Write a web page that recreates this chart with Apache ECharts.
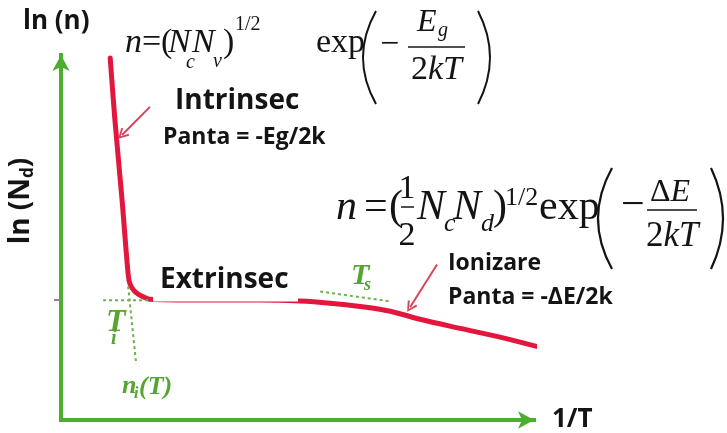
<!DOCTYPE html>
<html>
<head>
<meta charset="utf-8">
<script src="https://cdn.jsdelivr.net/npm/echarts@6/dist/echarts.min.js"></script>
<style>
  html, body { margin: 0; padding: 0; background: #fff; }
  #chart { width: 727px; height: 433px; }
</style>
</head>
<body>
<div id="chart"></div>
<script>
// ln(n) versus 1/T for a doped semiconductor, in arbitrary units (both axes span 0..100)
const invT = [10.4, 11.4, 12.9, 14.2, 14.6, 15.6, 17.1, 18.8, 29.4, 42.1, 50.5, 56.9, 63.2, 69.6, 75.9, 84.4, 92.8, 101.3];
const lnN  = [99.2, 82.2, 60.4, 39.9, 37.2, 35.2, 33.9, 33.1, 32.9, 32.9, 32.6, 32.0, 31.1, 29.8, 27.6, 25.1, 22.7, 19.9];

// level of ln(Nd) marked on the vertical axis
const lnNd = 32.9;

// construction lines (1/T, ln n)
const tiHorizontal = [[8.9, 32.8], [18.8, 32.8]];
const tiVertical   = [[14.2, 36.6], [15.9, 15.3]];
const tsTangent    = [[54.8, 35.2], [69.6, 32.5]];

// pointer arrows: [from, to]
const arrowIntrinsec = [[18.8, 85.8], [12.9, 78.1]];
const arrowIonizare  = [[79.5, 42.6], [73.8, 30.9]];

const GREEN = '#4cae2e';
const GREEN_TXT = '#55a530';
const RED = '#e3173d';
const ARROW = '#d8435c';
const INK = '#141414';
const SERIF = "'Liberation Serif', 'Times New Roman', serif";
const SANS = "'Open Sans', 'Liberation Sans', sans-serif";

const font = (style, weight, size, family) => `${style} ${weight} ${size}px ${family}`;

function txt(text, x, y, f, fill, extra) {
  const e = Object.assign({ z: 11, rotation: 0, align: 'left' }, extra || {});
  return {
    type: 'text', x: x, y: y, z: e.z, rotation: e.rotation, silent: true,
    style: {
      text: text, font: f, fill: fill || INK,
      align: e.align, textAlign: e.align,
      verticalAlign: 'middle', textVerticalAlign: 'middle',
      rich: e.rich
    }
  };
}

// tall thin bracket; xEnd = tips, xBulge = outermost point
function paren(xEnd, xBulge, y0, y1, w) {
  const ym = (y0 + y1) / 2;
  return {
    type: 'bezierCurve', z: 11, silent: true,
    shape: { x1: xEnd, y1: y0, x2: xEnd, y2: y1, cpx1: 2 * xBulge - xEnd, cpy1: ym },
    style: { stroke: INK, lineWidth: w, fill: null }
  };
}

function bar(x1, x2, y) {
  return { type: 'line', z: 11, silent: true, shape: { x1: x1, y1: y, x2: x2, y2: y }, style: { stroke: INK, lineWidth: 1.5 } };
}

const it = (s) => font('italic', 'normal', s, SERIF);
const up = (s) => font('normal', 'normal', s, SERIF);
const gb = (s) => font('italic', 'bold', s, SERIF);
const sb = (s) => font('normal', 'bold', s, SANS);

const elements = [
  // white label box that sits over the plateau
  { type: 'rect', z: 10, silent: true, shape: { x: 153, y: 262, width: 145, height: 39.5 }, style: { fill: '#fff' } },

  // axis captions
  txt('ln (n)', 23, 22, sb(26)),
  txt('{a|ln (N}{b|d}{a|)}', 21, 201, sb(28), INK, {
    rotation: Math.PI / 2, align: 'center',
    rich: { a: { font: sb(28), fill: INK, lineHeight: 32 }, b: { font: sb(17), fill: INK, lineHeight: 17, verticalAlign: 'bottom' } }
  }),

  // regime labels
  txt('Intrinsec', 175, 101, sb(28)),
  txt('Panta = -Eg/2k', 163, 137, sb(23)),
  txt('Extrinsec', 160, 280, sb(28)),
  txt('Ionizare', 448, 263, sb(23)),
  txt('Panta = -ΔE/2k', 448, 297, sb(23)),

  // green markers
  txt('T', 106, 323, gb(32), GREEN_TXT),
  txt('i', 111, 339, gb(20), GREEN_TXT),
  txt('n', 122, 386, gb(26), GREEN_TXT),
  txt('i', 134, 394, gb(16), GREEN_TXT),
  txt('(T)', 139, 387, gb(26), GREEN_TXT),
  txt('T', 351, 276, gb(30), GREEN_TXT),
  txt('s', 364, 285, gb(18), GREEN_TXT),

  // n = (Nc Nv)^(1/2) exp(-Eg / 2kT)
  txt('n', 125, 43.5, it(34)),
  txt('=', 142, 43.5, up(34)),
  txt('(', 161, 43.5, up(34)),
  txt('N', 168, 43.5, it(34)),
  txt('c', 186, 63, it(20)),
  txt('N', 192, 43.5, it(34)),
  txt('v', 213, 62, it(20)),
  txt(')', 223, 43.5, up(34)),
  txt('1/2', 235, 25, up(20)),
  txt('exp', 316, 43.5, up(34)),
  paren(376, 363, 11, 104, 2),
  txt('\u2212', 380, 45, up(34)),
  txt('E', 417, 23, it(32)),
  txt('g', 438, 31, it(20)),
  bar(408, 465, 47),
  txt('{u|2}{i|kT}', 411, 70, up(34), INK, { rich: { u: { font: up(34), fill: INK }, i: { font: it(34), fill: INK } } }),
  paren(478, 490, 11, 104, 2),

  // n = (1/2 Nc Nd)^(1/2) exp(-ΔE / 2kT)
  txt('n', 336, 207.5, it(42)),
  txt('=', 364, 207.5, up(42)),
  txt('(', 389, 207.5, up(42)),
  txt('1', 407, 189.5, up(34), INK, { align: 'center' }),
  bar(401, 414, 207),
  txt('2', 407, 236.5, up(34), INK, { align: 'center' }),
  txt('N', 417, 207.5, it(42)),
  txt('c', 444, 224, it(26)),
  txt('N', 453, 207.5, it(42)),
  txt('d', 481, 224, it(26)),
  txt(')', 493, 207.5, up(42)),
  txt('1/2', 505, 198, up(26)),
  txt('exp', 539, 207.5, up(42)),
  paren(612, 598, 168, 269, 2.2),
  txt('\u2212', 621, 206, up(42)),
  txt('{u|Δ}{i|E}', 650, 192.5, up(32), INK, { rich: { u: { font: up(32), fill: INK }, i: { font: it(32), fill: INK } } }),
  bar(647, 697, 210),
  txt('{u|2}{i|kT}', 646, 236.5, up(35), INK, { rich: { u: { font: up(35), fill: INK }, i: { font: it(35), fill: INK } } }),
  paren(711, 723, 168, 269, 2.2)
];

const guideStyle = { color: '#6db04a', width: 2, type: [3, 3] };
const guide = (pts) => ({
  type: 'line', data: pts, symbol: 'none', silent: true, clip: false, z: 4,
  lineStyle: guideStyle
});

const chevron = 'path://M5,0 L10,9 L8.5,10 L5,3.2 L1.5,10 L0,9 Z';

const option = {
  animation: false,
  backgroundColor: '#fff',
  grid: { left: 61, right: 193, top: 55, bottom: 12 },
  xAxis: {
    type: 'value', min: 0, max: 100,
    axisLine: { show: true, symbol: ['none', 'arrow'], symbolSize: [13, 16], lineStyle: { color: GREEN, width: 4, cap: 'square' } },
    axisTick: { show: false }, axisLabel: { show: false }, splitLine: { show: false },
    name: '1/T', nameLocation: 'end', nameGap: 18,
    nameTextStyle: { fontFamily: SANS, fontWeight: 'bold', fontSize: 26, color: INK }
  },
  yAxis: {
    type: 'value', min: 0, max: 100,
    axisLine: { show: true, symbol: ['none', 'arrow'], symbolSize: [13, 16], lineStyle: { color: GREEN, width: 4, cap: 'square' } },
    axisTick: { show: true, customValues: [lnNd], length: 7, lineStyle: { color: '#8a8a8a', width: 2 } },
    axisLabel: { show: false }, splitLine: { show: false }
  },
  series: [
    {
      type: 'line', name: 'ln n',
      data: invT.map((x, i) => [x, lnN[i]]),
      smooth: 0.3, symbol: 'none', clip: false, z: 3,
      lineStyle: { color: RED, width: 5, cap: 'round', join: 'round' }
    },
    guide(tiHorizontal),
    guide(tiVertical),
    guide(tsTangent),
    {
      type: 'line', data: [], symbol: 'none', z: 5,
      markLine: {
        silent: true, symbol: ['none', chevron], symbolSize: [11, 11],
        label: { show: false },
        lineStyle: { color: ARROW, width: 2, type: 'solid' },
        data: [
          [{ coord: arrowIntrinsec[0] }, { coord: arrowIntrinsec[1] }],
          [{ coord: arrowIonizare[0] }, { coord: arrowIonizare[1] }]
        ]
      }
    }
  ],
  graphic: { elements: elements }
};

const chart = echarts.init(document.getElementById('chart'), null, { renderer: 'canvas' });
chart.setOption(option);
</script>
</body>
</html>
